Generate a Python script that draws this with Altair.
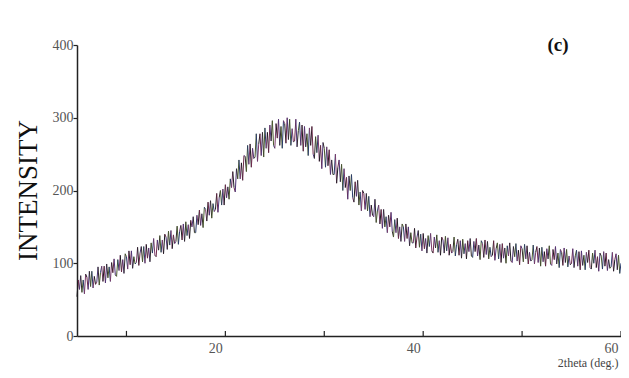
import altair as alt
import pandas as pd

# XRD scan: intensity sampled every 0.125 deg from 5.0 to 60.0 deg (2theta), one row per degree
intensity = [
    54, 77, 64, 83, 60, 77, 58, 85,
    81, 64, 89, 68, 89, 66, 82, 71,
    74, 95, 70, 87, 96, 75, 96, 73,
    99, 80, 95, 75, 101, 87, 106, 84,
    82, 105, 90, 111, 88, 105, 86, 113,
    109, 92, 117, 98, 117, 93, 109, 99,
    101, 122, 97, 114, 123, 102, 123, 100,
    126, 107, 121, 102, 128, 114, 134, 111,
    109, 132, 118, 138, 115, 132, 113, 140,
    136, 119, 144, 125, 145, 120, 139, 127,
    130, 151, 126, 144, 152, 132, 154, 130,
    157, 138, 153, 134, 159, 150, 164, 142,
    142, 166, 153, 173, 152, 168, 149, 177,
    174, 158, 184, 166, 186, 162, 182, 171,
    174, 196, 170, 190, 200, 180, 202, 180,
    208, 190, 205, 188, 216, 204, 226, 204,
    198, 230, 216, 242, 216, 238, 214, 248,
    247, 226, 262, 236, 264, 232, 258, 244,
    246, 278, 240, 264, 278, 248, 280, 246,
    286, 258, 280, 252, 290, 268, 296, 262,
    258, 292, 272, 298, 262, 288, 258, 296,
    292, 265, 300, 270, 298, 262, 285, 267,
    268, 298, 260, 282, 294, 262, 290, 254,
    288, 260, 278, 248, 286, 262, 288, 250,
    244, 274, 252, 276, 240, 262, 230, 266,
    258, 232, 260, 234, 256, 222, 242, 222,
    222, 250, 210, 232, 242, 212, 236, 200,
    230, 204, 218, 188, 220, 200, 222, 190,
    184, 212, 192, 214, 180, 198, 172, 200,
    196, 174, 196, 172, 192, 164, 180, 166,
    164, 188, 156, 172, 180, 154, 174, 148,
    174, 150, 164, 142, 166, 150, 170, 144,
    136, 160, 142, 162, 134, 150, 130, 154,
    150, 130, 154, 134, 150, 124, 142, 128,
    128, 148, 121, 136, 145, 122, 140, 117,
    141, 120, 134, 114, 138, 123, 141, 117,
    114, 136, 121, 139, 115, 131, 111, 136,
    132, 114, 137, 117, 135, 111, 126, 114,
    116, 136, 110, 126, 133, 111, 131, 107,
    133, 113, 127, 106, 131, 116, 134, 110,
    108, 130, 116, 134, 110, 125, 105, 131,
    127, 108, 132, 112, 130, 106, 122, 109,
    111, 131, 104, 120, 128, 106, 126, 101,
    127, 107, 121, 100, 124, 110, 128, 103,
    101, 123, 109, 127, 103, 118, 98, 124,
    120, 102, 126, 106, 124, 99, 115, 103,
    105, 125, 99, 115, 123, 101, 121, 96,
    122, 102, 116, 96, 120, 106, 124, 99,
    97, 119, 105, 123, 99, 114, 94, 119,
    115, 97, 121, 101, 119, 95, 110, 98,
    100, 120, 94, 110, 118, 96, 116, 91,
    117, 97, 111, 91, 115, 101, 118, 94,
    92, 114, 100, 118, 94, 109, 89, 114,
    110, 92, 116, 96, 114, 90, 105, 93,
    95, 115, 89, 105, 113, 91, 111, 86,
    100,
]
two_theta = [round(5.0 + 0.125 * i, 3) for i in range(len(intensity))]

x_tick_values = [10, 20, 30, 40, 50, 60]
x_label_values = [20, 40, 60]
y_tick_values = [0, 100, 200, 300, 400]
trace_colors = ["#1c1a1e", "#6e2a4c", "#4e3478", "#2f2a2a", "#4a5a2e", "#283a6a", "#7a3a6a"]

rows = []
for i in range(len(intensity) - 1):
    rows.append({
        "x": two_theta[i], "y": intensity[i],
        "x2": two_theta[i + 1], "y2": intensity[i + 1],
        "c": str(i % len(trace_colors)),
    })
df = pd.DataFrame(rows)
ticks_df = pd.DataFrame({"x": x_tick_values, "y0": [0] * len(x_tick_values), "y1": [7] * len(x_tick_values)})

FONT = "Liberation Serif"
xscale = alt.Scale(domain=[5, 60], nice=False, zero=False)
yscale = alt.Scale(domain=[0, 400], nice=False)

x_axis = alt.Axis(
    values=x_label_values, format="d", title="2theta (deg.)", ticks=False,
    labelOffset=-10, labelPadding=5, labelFlush=False, labelFont=FONT,
    labelFontSize=14, labelColor="#555", domainColor="#222", domainWidth=1.5,
    grid=False, titleFont=FONT, titleFontSize=12, titleFontWeight="normal",
    titleColor="#444", titleX=541, titleY=26, titleAlign="right",
    titleBaseline="middle")
y_axis = alt.Axis(
    values=y_tick_values, title="INTENSITY", tickSize=4, tickColor="#222",
    tickWidth=1.2, labelPadding=0, labelFont=FONT, labelFontSize=14,
    labelColor="#555", domainColor="#222", domainWidth=1.5, grid=False,
    titleFont=FONT, titleFontSize=27, titleFontWeight="normal",
    titleColor="#111", titleX=-49, titleY=145, titleAlign="center",
    titleBaseline="middle", titleAngle=-90)

trace = alt.Chart(df).mark_rule(strokeWidth=1.0).encode(
    x=alt.X("x:Q", scale=xscale, axis=x_axis),
    x2="x2:Q",
    y=alt.Y("y:Q", scale=yscale, axis=y_axis),
    y2="y2:Q",
    color=alt.Color("c:N", scale=alt.Scale(range=trace_colors), legend=None),
)

xticks = alt.Chart(ticks_df).mark_rule(color="#222", strokeWidth=1.2).encode(
    x=alt.X("x:Q", scale=xscale, axis=x_axis),
    y=alt.Y("y0:Q", scale=yscale, axis=y_axis),
    y2="y1:Q",
)

label = alt.Chart(pd.DataFrame({"t": ["(c)"]})).mark_text(
    font=FONT, fontSize=19, fontWeight="bold", color="#111", align="center",
    baseline="middle",
).encode(x=alt.value(481), y=alt.value(0), text="t:N")

chart = alt.layer(trace, xticks, label).properties(
    width=544, height=291,
    padding={"left": 69, "top": 37, "right": 0, "bottom": 34},
    autosize=alt.AutoSizeParams(type="none"),
).configure(background="white").configure_view(stroke=None)

chart.save("out.html", embed_options={"renderer": "svg", "actions": False})
